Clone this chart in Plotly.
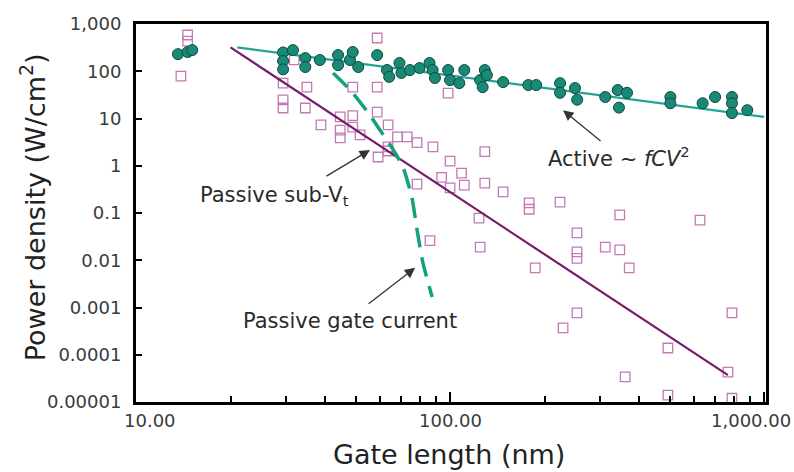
import math
import plotly.graph_objects as go

# ---------------- data ----------------
active_x = [13.6, 14.6, 15.1, 29.4, 29.4, 29.4, 31.6, 34.6, 34.6, 38.5, 44, 44, 48, 49, 51,
            58.6, 63, 64, 69, 70, 74.5, 80, 86, 88, 89.5, 98.6, 100, 107, 111, 124.7, 129, 131,
            127, 147.5, 177.5, 188, 224, 224, 250, 254, 312, 342, 366, 345, 503, 503, 637,
            698, 790, 790, 790, 884]
active_y = [230, 255, 280, 250, 165, 110, 280, 190, 123, 173, 220, 135, 173, 255, 123,
            220, 106, 76, 150, 92, 106, 117, 150, 106, 72, 106, 65, 56, 106, 65, 106, 83,
            46, 59, 51, 51, 56, 35, 44, 25, 28.5, 40, 35, 17, 28.5, 21, 21,
            28.5, 28.5, 21, 13, 15]

passive_x = [13.9, 14.6, 14.6, 29.4, 29.4, 29.4, 31.9, 35, 34.6, 38.8, 44.7, 44.7, 44.7,
             49, 49, 49, 51.7, 58.6, 58.6, 58.6, 63.5, 63.5, 63.5, 59, 68, 73, 78.5, 88.2,
             98.6, 100, 94, 78.5, 129, 108.8, 111, 100, 129, 147.5, 178.6, 178.6, 224,
             123.6, 347, 625, 124.7, 186.7, 253.6, 253.6, 253.6, 312, 347, 372, 86.3,
             253.6, 229, 790, 494, 361, 767, 494, 790]
passive_y = [79, 585, 436, 56, 24.7, 16.7, 174, 46, 16.7, 7.3, 10.8, 5.7, 3.9,
             46, 11.5, 6.6, 4.5, 506, 46, 13.7, 7.3, 2.5, 2.05, 1.53, 4.1, 4.1, 3.1, 2.5,
             34.6, 1.25, 0.57, 0.41, 2.0, 0.70, 0.39, 0.34, 0.43, 0.28, 0.163, 0.12, 0.17,
             0.078, 0.091, 0.071, 0.019, 0.0069, 0.038, 0.015, 0.011, 0.019, 0.0165, 0.0069, 0.026,
             0.00077, 0.00037, 0.00077, 0.000139, 3.4e-5, 4.3e-5, 1.4e-5, 1.2e-5]

active_fit_x = [21, 1000]
active_fit_y = [320, 10.8]

subvt_fit_x = [20, 767]
subvt_fit_y = [320, 3.7e-5]

gate_x = [42.4, 48.1, 54.9, 59.8, 65.3, 70.8, 75.6, 78.5, 82, 87.7]
gate_y = [92, 40, 13.1, 5.7, 2.4, 0.94, 0.21, 0.044, 0.0087, 0.00167]

y_tickvals = [1000, 100, 10, 1, 0.1, 0.01, 0.001, 0.0001, 0.00001]
y_ticktext = ["1,000", "100", "10", "1", "0.1", "0.01", "0.001", "0.0001", "0.00001"]
x_tickvals = [10, 100, 1000]
x_ticktext = ["10.00", "100.00", "1,000.00"]
x_minor = [20, 30, 40, 50, 60, 70, 80, 90, 200, 300, 400, 500, 600, 700, 800, 900]

FONT = "DejaVu Sans"
lg = math.log10

fig = go.Figure()
fig.add_trace(go.Scatter(x=passive_x, y=passive_y, mode="markers",
                         marker=dict(symbol="square-open", size=9.5, color="#c37ab4",
                                     line=dict(width=1.3, color="#c37ab4")),
                         showlegend=False))
fig.add_trace(go.Scatter(x=subvt_fit_x, y=subvt_fit_y, mode="lines",
                         line=dict(color="#741c66", width=2.2), showlegend=False))
fig.add_trace(go.Scatter(x=gate_x, y=gate_y, mode="lines",
                         line=dict(color="#15a07e", width=3.5, dash="20px,10px", shape="spline", smoothing=0.6),
                         showlegend=False))
fig.add_trace(go.Scatter(x=active_fit_x, y=active_fit_y, mode="lines",
                         line=dict(color="#22a393", width=2.2), showlegend=False))
fig.add_trace(go.Scatter(x=active_x, y=active_y, mode="markers",
                         marker=dict(symbol="circle", size=11, color="#1a8a77",
                                     line=dict(width=1, color="#0b4b40")),
                         showlegend=False))

C = dict(xanchor="center", yanchor="middle")
annotations = []
# x tick labels
for v, t, sh in zip(x_tickvals, x_ticktext, [14, 0, -13]):
    annotations.append(dict(x=lg(v), y=0, xref="x", yref="paper", text=t, showarrow=False,
                            xshift=sh, yshift=-18, font=dict(family=FONT, size=18, color="#3a3a3a"), **C))
# axis titles
annotations.append(dict(x=-0.163, y=0.516, xref="paper", yref="paper",
                        text="Power density (W/cm<sup>2</sup>)", textangle=-90, showarrow=False,
                        font=dict(family=FONT, size=27, color="#222222"), **C))
annotations.append(dict(x=0.497, y=-0.14, xref="paper", yref="paper",
                        text="Gate length (nm)", showarrow=False,
                        font=dict(family=FONT, size=27, color="#222222"), **C))
# labels
lab_font = dict(family=FONT, size=21, color="#2a2a2a")
annotations.append(dict(x=0.2206, y=0.545, xref="paper", yref="paper",
                        text="Passive sub-V<sub>t</sub>", showarrow=False, font=lab_font, **C))
annotations.append(dict(x=0.767, y=0.648, xref="paper", yref="paper",
                        text="Active ~ <i>fCV</i><sup>2</sup>", showarrow=False, font=lab_font, **C))
annotations.append(dict(x=0.34, y=0.214, xref="paper", yref="paper",
                        text="Passive gate current", showarrow=False, font=lab_font, **C))
# arrows
for hx, hy, ax, ay in [(55.6, 2.15, -45, 27), (77.4, 0.0069, -48, 37), (229, 15, 39, 32)]:
    annotations.append(dict(x=lg(hx), y=lg(hy), xref="x", yref="y", text="", showarrow=True,
                            ax=ax, ay=ay, arrowhead=2, arrowsize=1.6, arrowwidth=1.3,
                            arrowcolor="#333333", standoff=0))

fig.update_layout(
    width=794, height=472,
    margin=dict(l=136, r=28, t=24, b=70),
    paper_bgcolor="white", plot_bgcolor="white",
    annotations=annotations,
    font=dict(family=FONT),
)
fig.update_xaxes(type="log", range=[1, 3.006], showgrid=False, zeroline=False,
                 showline=True, linecolor="black", linewidth=3, mirror=True,
                 tickvals=x_tickvals, ticks="inside", ticklen=10, tickwidth=2, tickcolor="black",
                 showticklabels=False,
                 minor=dict(tickvals=x_minor, ticks="inside", ticklen=6, tickwidth=2, tickcolor="black"))
fig.update_yaxes(type="log", range=[-5, 3], showgrid=False, zeroline=False,
                 showline=True, linecolor="black", linewidth=3, mirror=True,
                 tickvals=y_tickvals, ticktext=y_ticktext, ticks="inside", ticklen=6, tickwidth=2,
                 tickcolor="black", ticklabelstandoff=8,
                 tickfont=dict(family=FONT, size=18, color="#3a3a3a"))

fig.write_html("out.html", config={"displayModeBar": False},
               post_script="document.body.style.margin='0';document.body.style.overflow='hidden';")
